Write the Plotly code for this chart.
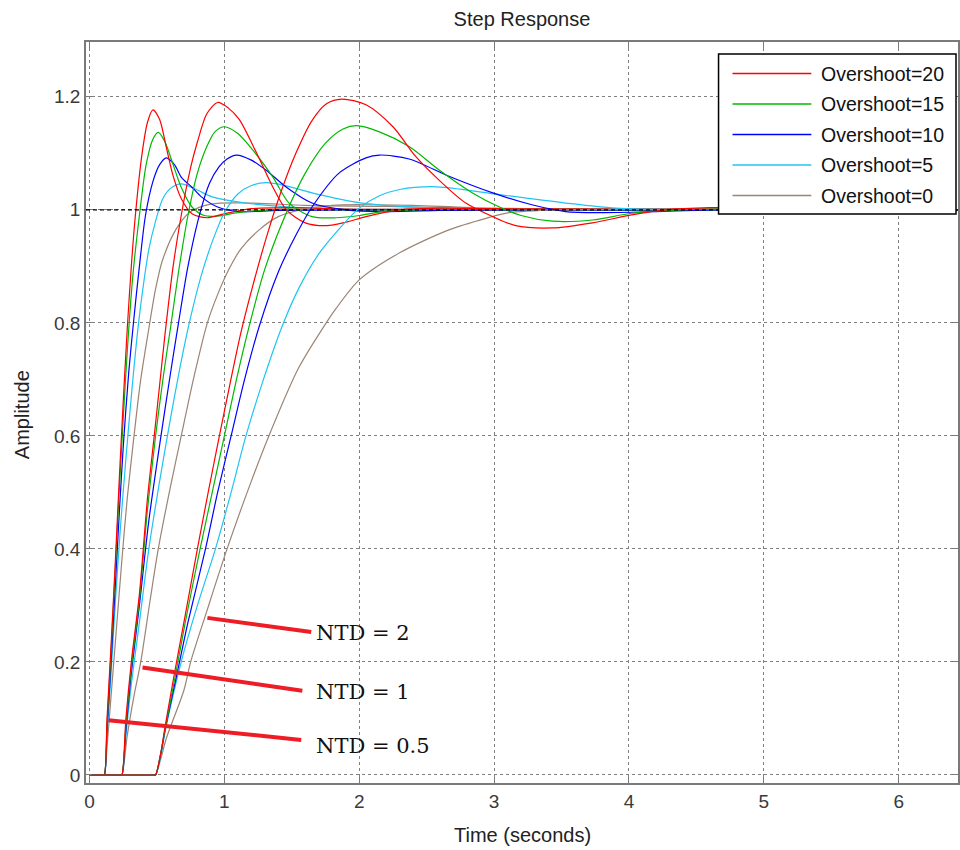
import plotly.graph_objects as go

# ---------------- data ----------------
overshoot_levels = [20, 15, 10, 5, 0]
ntd_levels = [0.5, 1, 2]
steady_state = 1.0

# NTD = 0.5
t_ntd05_os20 = [0, 0.10, 0.11, 0.13, 0.16, 0.19, 0.22, 0.25, 0.28, 0.31, 0.34, 0.39, 0.43, 0.47, 0.52, 0.57, 0.62, 0.68, 0.76, 0.87, 1.0, 1.2, 1.5, 2.0, 6.5]
a_ntd05_os20 = [0, 0, 0, 0.10, 0.23, 0.37, 0.52, 0.66, 0.79, 0.90, 0.99, 1.10, 1.155, 1.177, 1.16, 1.11, 1.06, 1.02, 0.993, 0.986, 0.993, 1.002, 1.004, 1.001, 1.0]
t_ntd05_os15 = [0, 0.10, 0.11, 0.13, 0.16, 0.19, 0.22, 0.25, 0.28, 0.32, 0.37, 0.42, 0.47, 0.51, 0.56, 0.62, 0.68, 0.76, 0.85, 0.95, 1.1, 1.4, 2.0, 6.5]
a_ntd05_os15 = [0, 0, 0, 0.09, 0.22, 0.36, 0.50, 0.63, 0.75, 0.88, 0.99, 1.08, 1.125, 1.137, 1.12, 1.08, 1.04, 1.005, 0.99, 0.989, 0.995, 1.001, 1.0, 1.0]
t_ntd05_os10 = [0, 0.10, 0.11, 0.13, 0.16, 0.19, 0.22, 0.25, 0.29, 0.33, 0.37, 0.415, 0.47, 0.52, 0.57, 0.63, 0.68, 0.76, 0.83, 0.95, 1.1, 1.4, 2.0, 6.5]
a_ntd05_os10 = [0, 0, 0, 0.08, 0.20, 0.33, 0.46, 0.58, 0.71, 0.81, 0.90, 0.99, 1.05, 1.08, 1.092, 1.08, 1.058, 1.04, 1.023, 1.005, 0.997, 0.999, 1.0, 1.0]
t_ntd05_os5 = [0, 0.10, 0.11, 0.13, 0.16, 0.19, 0.23, 0.27, 0.31, 0.35, 0.39, 0.44, 0.49, 0.54, 0.60, 0.68, 0.80, 0.91, 1.16, 1.5, 2.0, 6.5]
a_ntd05_os5 = [0, 0, 0, 0.07, 0.18, 0.30, 0.44, 0.56, 0.67, 0.77, 0.85, 0.93, 0.98, 1.018, 1.038, 1.046, 1.035, 1.023, 1.012, 1.005, 1.001, 1.0]
t_ntd05_os0 = [0, 0.10, 0.11, 0.13, 0.16, 0.20, 0.24, 0.28, 0.33, 0.38, 0.44, 0.49, 0.54, 0.64, 0.74, 0.9, 1.2, 1.6, 2.2, 3.0, 6.5]
a_ntd05_os0 = [0, 0, 0, 0.05, 0.14, 0.26, 0.38, 0.49, 0.60, 0.70, 0.79, 0.86, 0.91, 0.965, 0.995, 1.01, 1.012, 1.008, 1.006, 1.002, 1.0]

# NTD = 1
t_ntd1_os20 = [0, 0.23, 0.24, 0.27, 0.31, 0.37, 0.43, 0.48, 0.52, 0.56, 0.62, 0.68, 0.75, 0.80, 0.87, 0.95, 1.03, 1.11, 1.24, 1.36, 1.46, 1.6, 1.76, 1.9, 2.05, 2.3, 2.6, 3.0, 6.5]
a_ntd1_os20 = [0, 0, 0, 0.10, 0.20, 0.32, 0.49, 0.60, 0.69, 0.78, 0.90, 0.99, 1.075, 1.12, 1.17, 1.19, 1.18, 1.16, 1.10, 1.04, 1.0, 0.977, 0.972, 0.978, 0.988, 1.0, 1.003, 1.002, 1.0]
t_ntd1_os15 = [0, 0.23, 0.24, 0.27, 0.31, 0.37, 0.43, 0.49, 0.55, 0.60, 0.66, 0.73, 0.80, 0.87, 0.93, 1.0, 1.1, 1.21, 1.36, 1.48, 1.65, 1.83, 2.0, 2.17, 2.5, 3.0, 6.5]
a_ntd1_os15 = [0, 0, 0, 0.09, 0.19, 0.31, 0.47, 0.60, 0.71, 0.79, 0.89, 0.99, 1.065, 1.112, 1.138, 1.147, 1.135, 1.106, 1.058, 1.012, 0.988, 0.986, 0.99, 0.997, 1.001, 1.001, 1.0]
t_ntd1_os10 = [0, 0.23, 0.24, 0.27, 0.31, 0.37, 0.44, 0.53, 0.60, 0.66, 0.73, 0.82, 0.89, 0.96, 1.02, 1.09, 1.2, 1.31, 1.46, 1.65, 1.9, 2.2, 2.6, 3.0, 6.5]
a_ntd1_os10 = [0, 0, 0, 0.08, 0.18, 0.30, 0.45, 0.60, 0.71, 0.80, 0.90, 0.995, 1.047, 1.076, 1.09, 1.097, 1.088, 1.07, 1.04, 1.012, 1.0, 0.997, 0.999, 1.0, 1.0]
t_ntd1_os5 = [0, 0.23, 0.24, 0.27, 0.31, 0.37, 0.44, 0.52, 0.60, 0.67, 0.74, 0.83, 0.92, 1.0, 1.1, 1.2, 1.31, 1.45, 1.65, 2.02, 2.5, 3.0, 6.5]
a_ntd1_os5 = [0, 0, 0, 0.07, 0.16, 0.27, 0.40, 0.52, 0.63, 0.72, 0.80, 0.885, 0.95, 0.995, 1.028, 1.043, 1.048, 1.043, 1.03, 1.012, 1.004, 1.001, 1.0]
t_ntd1_os0 = [0, 0.23, 0.24, 0.28, 0.33, 0.38, 0.45, 0.51, 0.60, 0.68, 0.78, 0.874, 0.95, 1.03, 1.12, 1.26, 1.4, 1.53, 1.8, 2.1, 2.4, 3.0, 6.5]
a_ntd1_os0 = [0, 0, 0, 0.07, 0.14, 0.20, 0.31, 0.40, 0.51, 0.60, 0.71, 0.80, 0.85, 0.893, 0.93, 0.965, 0.988, 0.998, 1.008, 1.009, 1.008, 1.003, 1.0]

# NTD = 2
t_ntd2_os20 = [0, 0.48, 0.49, 0.53, 0.56, 0.63, 0.70, 0.80, 0.88, 0.963, 1.04, 1.12, 1.21, 1.31, 1.41, 1.53, 1.65, 1.76, 1.87, 2.05, 2.25, 2.42, 2.59, 2.79, 2.99, 3.16, 3.43, 3.73, 4.02, 4.27, 4.6, 5.2, 5.8, 6.5]
a_ntd2_os20 = [0, 0, 0, 0.04, 0.085, 0.18, 0.27, 0.40, 0.50, 0.60, 0.69, 0.78, 0.865, 0.95, 1.025, 1.10, 1.158, 1.188, 1.196, 1.186, 1.147, 1.094, 1.053, 1.012, 0.988, 0.972, 0.968, 0.977, 0.991, 1.0, 1.004, 1.004, 1.001, 1.0]
t_ntd2_os15 = [0, 0.48, 0.49, 0.53, 0.56, 0.64, 0.71, 0.82, 0.91, 1.0, 1.09, 1.185, 1.3, 1.46, 1.6, 1.75, 1.88, 1.98, 2.15, 2.37, 2.59, 2.84, 3.04, 3.2, 3.43, 3.73, 4.02, 4.4, 5.0, 6.5]
a_ntd2_os15 = [0, 0, 0, 0.04, 0.08, 0.18, 0.27, 0.40, 0.50, 0.60, 0.70, 0.795, 0.895, 0.995, 1.065, 1.118, 1.143, 1.149, 1.138, 1.112, 1.071, 1.03, 1.005, 0.99, 0.98, 0.982, 0.994, 1.0, 1.002, 1.0]
t_ntd2_os10 = [0, 0.48, 0.49, 0.53, 0.56, 0.65, 0.73, 0.86, 0.95, 1.05, 1.15, 1.26, 1.4, 1.53, 1.65, 1.85, 2.05, 2.15, 2.37, 2.67, 2.99, 3.28, 3.53, 3.78, 4.2, 4.6, 6.5]
a_ntd2_os10 = [0, 0, 0, 0.04, 0.08, 0.18, 0.27, 0.40, 0.50, 0.60, 0.70, 0.795, 0.89, 0.955, 1.005, 1.065, 1.092, 1.097, 1.09, 1.059, 1.03, 1.009, 0.997, 0.995, 0.997, 1.0, 1.0]
t_ntd2_os5 = [0, 0.48, 0.49, 0.53, 0.56, 0.68, 0.80, 0.934, 1.05, 1.16, 1.29, 1.43, 1.56, 1.7, 1.85, 2.0, 2.15, 2.3, 2.54, 2.8, 3.04, 3.53, 3.9, 4.5, 6.5]
a_ntd2_os5 = [0, 0, 0, 0.035, 0.075, 0.20, 0.30, 0.40, 0.50, 0.60, 0.70, 0.795, 0.865, 0.922, 0.966, 1.003, 1.025, 1.036, 1.041, 1.035, 1.027, 1.012, 1.003, 1.0, 1.0]
t_ntd2_os0 = [0, 0.48, 0.49, 0.53, 0.57, 0.70, 0.75, 0.87, 1.02, 1.2, 1.33, 1.55, 1.755, 1.83, 2.0, 2.3, 2.67, 2.94, 3.11, 3.5, 4.0, 6.5]
a_ntd2_os0 = [0, 0, 0, 0.03, 0.065, 0.15, 0.20, 0.29, 0.40, 0.52, 0.60, 0.72, 0.80, 0.826, 0.876, 0.924, 0.965, 0.985, 0.995, 1.0, 1.001, 1.0]

x_ticks = [0, 1, 2, 3, 4, 5, 6]
y_ticks = [0, 0.2, 0.4, 0.6, 0.8, 1.0, 1.2]
y_tick_labels = ["0", "0.2", "0.4", "0.6", "0.8", "1", "1.2"]

curves = {
    (0.5, 20): (t_ntd05_os20, a_ntd05_os20), (0.5, 15): (t_ntd05_os15, a_ntd05_os15),
    (0.5, 10): (t_ntd05_os10, a_ntd05_os10), (0.5, 5): (t_ntd05_os5, a_ntd05_os5),
    (0.5, 0): (t_ntd05_os0, a_ntd05_os0),
    (1, 20): (t_ntd1_os20, a_ntd1_os20), (1, 15): (t_ntd1_os15, a_ntd1_os15),
    (1, 10): (t_ntd1_os10, a_ntd1_os10), (1, 5): (t_ntd1_os5, a_ntd1_os5),
    (1, 0): (t_ntd1_os0, a_ntd1_os0),
    (2, 20): (t_ntd2_os20, a_ntd2_os20), (2, 15): (t_ntd2_os15, a_ntd2_os15),
    (2, 10): (t_ntd2_os10, a_ntd2_os10), (2, 5): (t_ntd2_os5, a_ntd2_os5),
    (2, 0): (t_ntd2_os0, a_ntd2_os0),
}

# ---------------- styling ----------------
colors = {20: "#ff0000", 15: "#00b800", 10: "#0000ff", 5: "#1ec4f4", 0: "#9c8474"}
W, H = 960, 850
ML, MR, MT, MB = 86, 0, 42, 67
PW, PH = W - ML - MR, H - MT - MB
FONT = "Liberation Sans"


def px_to_paper(px, py):
    return (px - ML) / PW, (H - MB - py) / PH


fig = go.Figure()

for ntd in ntd_levels:
    for os_ in reversed(overshoot_levels):
        t, a = curves[(ntd, os_)]
        fig.add_trace(go.Scatter(
            x=t, y=a, mode="lines",
            line=dict(color=colors[os_], width=1.2, shape="spline", smoothing=0.8),
            name=f"Overshoot={os_}", legendgroup=str(os_), showlegend=False,
            hoverinfo="skip"))

shapes = []
annotations = []

# steady-state dashed line
shapes.append(dict(type="line", xref="paper", x0=0, x1=1, yref="y",
                   y0=steady_state, y1=steady_state, layer="above",
                   line=dict(color="black", width=1.2, dash="4px,3px")))

# NTD pointer annotations
ntd_ptrs = [
    ("NTD = 2", (0.874, 0.278), (1.644, 0.253), 0.251),
    ("NTD = 1", (0.393, 0.190), (1.578, 0.149), 0.147),
    ("NTD = 0.5", (0.141, 0.097), (1.570, 0.062), 0.051),
]
for label, p0, p1, ty in ntd_ptrs:
    shapes.append(dict(type="line", xref="x", yref="y", x0=p0[0], y0=p0[1],
                       x1=p1[0], y1=p1[1], layer="above",
                       line=dict(color="#ee1c25", width=4)))
    annotations.append(dict(x=1.667, y=ty, xref="x", yref="y", text=label,
                            showarrow=False, xanchor="left", yanchor="middle",
                            font=dict(family="DejaVu Serif", size=21, color="#111")))

# legend (box + samples + text)
bx0, by0 = px_to_paper(720, 214)
bx1, by1 = px_to_paper(958, 54)
shapes.append(dict(type="rect", xref="paper", yref="paper", x0=bx0, y0=by0,
                   x1=bx1, y1=by1, fillcolor="white", layer="above",
                   line=dict(color="black", width=1.5)))
for i, os_ in enumerate(overshoot_levels):
    py = 73.5 + i * 30.5
    lx0, ly = px_to_paper(734, py)
    lx1, _ = px_to_paper(813, py)
    shapes.append(dict(type="line", xref="paper", yref="paper", x0=lx0, x1=lx1,
                       y0=ly, y1=ly, layer="above",
                       line=dict(color=colors[os_], width=1.5)))
    tx, _ = px_to_paper(821, py)
    annotations.append(dict(x=tx, y=ly, xref="paper", yref="paper",
                            text=f"Overshoot={os_}", showarrow=False,
                            xanchor="left", yanchor="middle",
                            font=dict(family=FONT, size=19.5, color="#111")))

# axis titles
_, ax_y = px_to_paper(523, 835)
annotations.append(dict(x=0.5, y=ax_y, xref="paper", yref="paper", text="Time (seconds)",
                        showarrow=False, xanchor="center", yanchor="middle",
                        font=dict(family=FONT, size=20, color="#222")))
ay_x, ay_y = px_to_paper(22, 415)
annotations.append(dict(x=ay_x, y=ay_y, xref="paper", yref="paper", text="Amplitude",
                        showarrow=False, textangle=-90, xanchor="center", yanchor="middle",
                        font=dict(family=FONT, size=20, color="#222")))

axis_common = dict(
    showgrid=True, gridcolor="#808080", griddash="3px,3px", gridwidth=1,
    zeroline=False, showline=True, linecolor="#7a7a7a", linewidth=1.5,
    mirror="ticks", ticks="inside", ticklen=6, tickcolor="#7a7a7a",
    tickfont=dict(family=FONT, size=19, color="#3a3a3a"),
)

fig.update_layout(
    width=W, height=H,
    margin=dict(l=ML, r=MR, t=MT, b=MB),
    paper_bgcolor="white", plot_bgcolor="white",
    showlegend=False,
    title=dict(text="Step Response", x=0.5, xref="paper", y=1 - 19 / H, yref="container",
               xanchor="center", yanchor="middle",
               font=dict(family=FONT, size=20, color="#222")),
    xaxis=dict(range=[-0.026, 6.44], tickvals=x_ticks, ticktext=[str(v) for v in x_ticks],
               **axis_common),
    yaxis=dict(range=[-0.0142, 1.297], tickvals=y_ticks, ticktext=y_tick_labels,
               **axis_common),
    shapes=shapes, annotations=annotations,
)

fig.write_html("out.html")
